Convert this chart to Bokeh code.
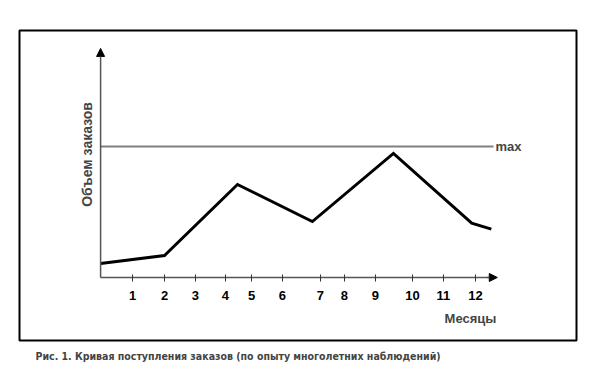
from bokeh.plotting import figure
from bokeh.models import (Range1d, LinearAxis, FixedTicker, Arrow, NormalHead,
                          Label, Title)
from bokeh.embed import file_html
from bokeh.resources import INLINE

# ---- data ----
month_labels = ["1", "2", "3", "4", "5", "6", "7", "8", "9", "10", "11", "12"]
month_ticks = [1.03, 2.05, 3.04, 4.0, 4.84, 5.83, 7.05, 7.82, 8.81, 10.0, 10.99, 12.02]
curve_x = [0.0, 2.05, 4.39, 6.79, 9.39, 11.9, 12.53]
curve_y = [10.7, 16.8, 71.0, 42.7, 94.7, 41.5, 36.9]
max_level = 100
max_line_x = [0.0, 12.6]

y_title = "Объем заказов"
x_title = "Месяцы"
caption = "Рис. 1. Кривая поступления заказов (по опыту многолетних наблюдений)"

FONT = "Liberation Sans"
CAP_FONT = "DejaVu Sans Condensed, Liberation Sans Narrow, Liberation Sans"

p = figure(width=590, height=371, output_backend="svg", toolbar_location=None,
           x_axis_type=None, y_axis_type=None,
           x_range=Range1d(-2.6, 15.26), y_range=Range1d(-48.1, 188.5),
           min_border_left=19, min_border_right=14, min_border_top=30, min_border_bottom=31)
p.grid.visible = False
p.outline_line_color = "black"
p.outline_line_width = 2
p.background_fill_color = "white"
p.border_fill_color = "white"

# x axis with month ticks, placed at y = 0
xa = LinearAxis(fixed_location=0, ticker=FixedTicker(ticks=month_ticks),
                bounds=(0, 12.6))
xa.major_label_overrides = {t: l for t, l in zip(month_ticks, month_labels)}
xa.axis_line_color = "#555555"
xa.axis_line_width = 1.5
xa.major_tick_line_color = "#333333"
xa.major_tick_in = 3
xa.major_tick_out = 4
xa.minor_tick_line_color = None
xa.major_label_standoff = 10
xa.major_label_text_font = FONT
xa.major_label_text_font_style = "bold"
xa.major_label_text_font_size = "13px"
xa.major_label_text_color = "black"
p.add_layout(xa, "below")

# axis arrows
p.add_layout(Arrow(end=NormalHead(size=8, fill_color="black", line_color="black"),
                   x_start=12.4, y_start=0, x_end=12.72, y_end=0,
                   line_color="#555555", line_width=1.5))
p.add_layout(Arrow(end=NormalHead(size=8, fill_color="black", line_color="black"),
                   x_start=0, y_start=0, x_end=0, y_end=174.8,
                   line_color="#555555", line_width=1.5))

# max level line
p.line(x=max_line_x, y=[max_level, max_level], line_color="#808080", line_width=2)

# order curve
p.line(x=curve_x, y=curve_y, line_color="black", line_width=3, line_join="miter")

# texts
p.add_layout(Label(x=12.66, y=max_level, text="max", text_font=FONT,
                   text_font_style="bold", text_font_size="13px",
                   text_align="left", text_baseline="middle"))
p.add_layout(Label(x=12.69, y=-31.3, text=x_title, text_font=FONT,
                   text_font_style="bold", text_font_size="13px",
                   text_align="right", text_baseline="middle"))
p.add_layout(Label(x=-0.45, y=93.9, text=y_title, angle=1.5708, text_font=FONT,
                   text_font_style="bold", text_font_size="14px",
                   text_align="center", text_baseline="middle"))

p.add_layout(Title(text=caption, align="left", offset=16,
                   text_font=CAP_FONT, text_font_style="bold",
                   text_font_size="10.5px", standoff=14), "below")

open("out.html", "w").write(file_html(p, INLINE))
